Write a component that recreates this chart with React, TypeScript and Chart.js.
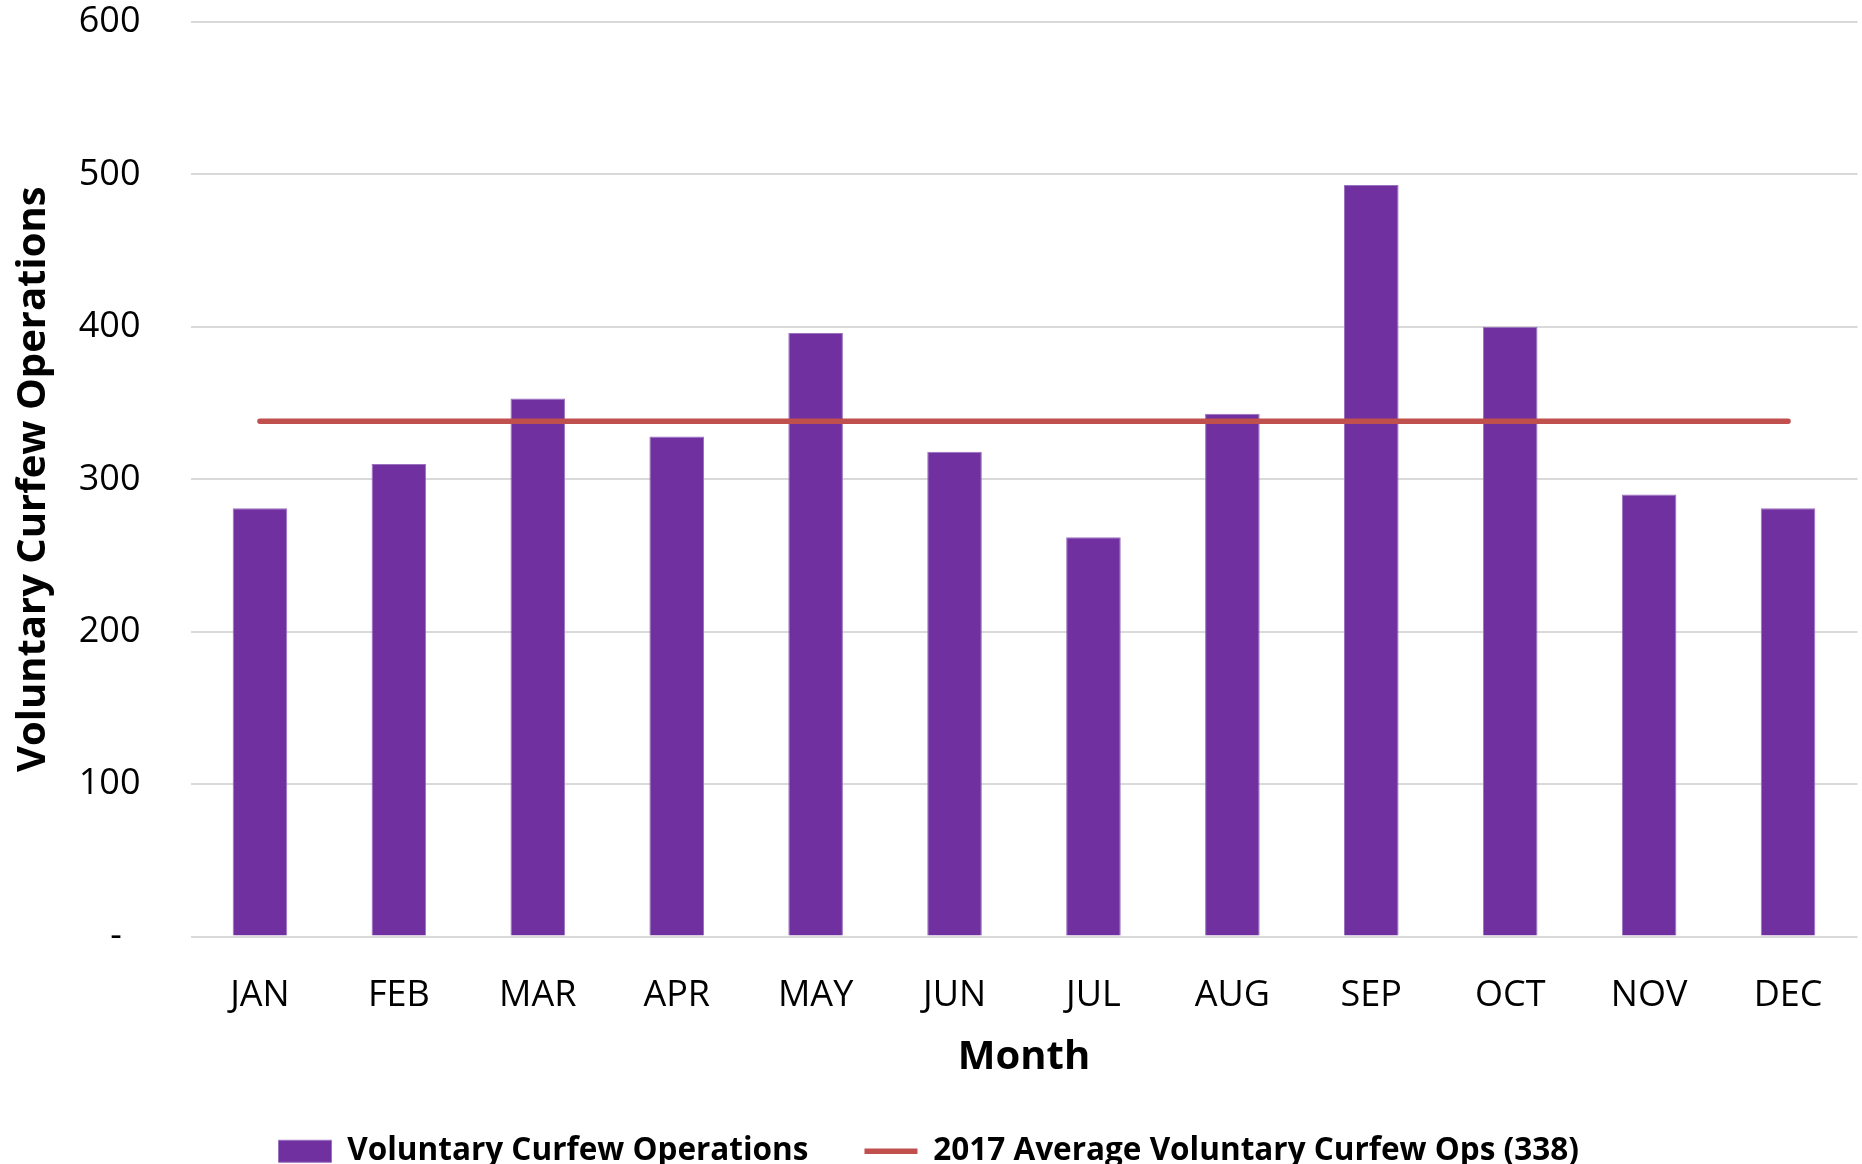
import React, { useEffect, useRef } from "react";
import { Chart, registerables } from "chart.js";

Chart.register(...registerables);

const months = ["JAN", "FEB", "MAR", "APR", "MAY", "JUN", "JUL", "AUG", "SEP", "OCT", "NOV", "DEC"];
const curfewOps = [281, 310, 353, 328, 396, 318, 262, 343, 493, 400, 290, 281];
const averageOps = [338, 338, 338, 338, 338, 338, 338, 338, 338, 338, 338, 338];
const barLabel = "Voluntary Curfew Operations";
const lineLabel = "2017 Average Voluntary Curfew Ops (338)";
const yTitle = "Voluntary Curfew Operations";
const xTitle = "Month";

const FONT = "'Open Sans', 'Noto Sans', sans-serif";

export default function App() {
  const ref = useRef<HTMLCanvasElement | null>(null);

  useEffect(() => {
    if (!ref.current) return;
    const chart = new Chart(ref.current, {
      type: "bar",
      data: {
        labels: months,
        datasets: [
          {
            type: "bar",
            label: barLabel,
            data: curfewOps,
            backgroundColor: "#7030A0",
            borderColor: "#9b72c0",
            borderWidth: 1,
            categoryPercentage: 1,
            barPercentage: 0.393,
            pointStyle: "rect",
            order: 1,
          },
          {
            type: "line",
            label: lineLabel,
            data: averageOps,
            borderColor: "#C0504D",
            backgroundColor: "#C0504D",
            borderWidth: 5.5,
            borderCapStyle: "round",
            pointRadius: 0,
            pointHoverRadius: 0,
            pointStyle: "line",
            fill: false,
            order: 0,
          },
        ] as any,
      },
      options: {
        responsive: false,
        animation: false,
        layout: { padding: { left: 0, right: 4.5, top: 22, bottom: 0 } },
        plugins: {
          tooltip: { enabled: false },
          legend: {
            position: "bottom",
            labels: {
              usePointStyle: true,
              pointStyleWidth: 53,
              boxHeight: 22,
              padding: 56,
              color: "#000",
              font: { family: FONT, size: 31.5, weight: "bold" },
              sort: (a: any, b: any) => a.datasetIndex - b.datasetIndex,
            },
          },
        },
        scales: {
          x: {
            grid: { display: false, drawTicks: false },
            border: { display: false },
            ticks: {
              color: "#000",
              padding: 37.5,
              font: { family: FONT, size: 36 },
            },
            title: {
              display: true,
              text: xTitle,
              color: "#000",
              padding: { top: 0, bottom: -2 },
              font: { family: FONT, size: 40, weight: "bold" },
            },
            afterFit: (scale: any) => {
              scale.height = 143;
            },
          },
          y: {
            min: 0,
            max: 600,
            grid: { color: "#d9d9d9", lineWidth: 2, drawTicks: false },
            border: { display: false },
            ticks: {
              stepSize: 100,
              color: "#000",
              padding: 50,
              font: { family: FONT, size: 36 },
              callback: (v: any) => (Number(v) === 0 ? "-  " : String(v)),
            },
            title: {
              display: true,
              text: yTitle,
              color: "#000",
              padding: { top: 10, bottom: 0 },
              font: { family: FONT, size: 40, weight: "bold" },
            },
            afterFit: (scale: any) => {
              scale.width = 190.5;
              scale.paddingTop = 0;
              scale.paddingBottom = 0;
            },
          },
        },
      } as any,
    });
    return () => chart.destroy();
  }, []);

  return (
    <div
      style={{
        position: "fixed",
        top: 0,
        left: 0,
        width: 1862,
        height: 1164,
        overflow: "hidden",
        background: "#fff",
      }}
    >
      <canvas ref={ref} width={1862} height={1177} style={{ width: 1862, height: 1177, display: "block" }} />
    </div>
  );
}
